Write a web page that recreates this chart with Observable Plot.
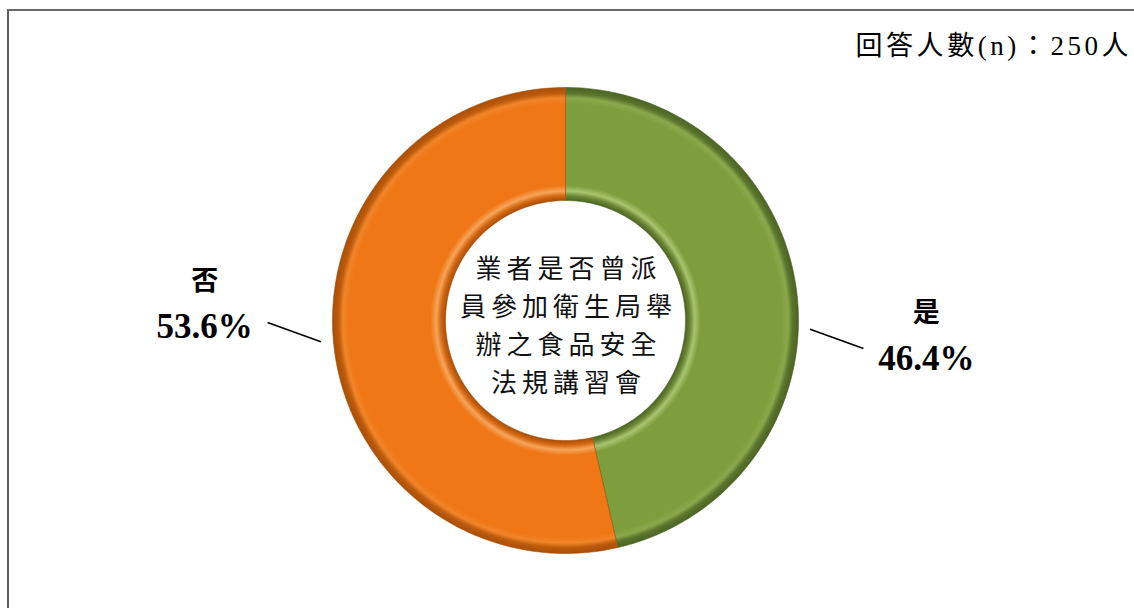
<!DOCTYPE html>
<html><head><meta charset="utf-8">
<script src="https://cdn.jsdelivr.net/npm/d3@7"></script>
<script src="https://cdn.jsdelivr.net/npm/@observablehq/plot@0.6"></script>
<style>
html,body{margin:0;padding:0;background:#fff;width:1134px;height:608px;overflow:hidden}
#wrap{position:relative;width:1134px;height:608px}
#frame{position:absolute;left:7px;top:9px;right:-5px;bottom:-5px;border-left:2px solid #5a5a5a;border-top:2px solid #6a6a6a;pointer-events:none}
#chart{position:absolute;left:0;top:0}
</style></head><body>
<div id="wrap"><div id="chart"></div><div id="frame"></div></div>
<script>
// ---- data ----
const categories = ["是", "否"];
const percents = [46.4, 53.6];
const sliceColors = ["#7E9E3E", "#EF7716"];
const rimColors = ["#4B6424", "#A84F08"];
const lightColors = ["#A9C46E", "#F6A45A"];
const centerLines = ["業者是否曾派", "員參加衛生局舉", "辦之食品安全", "法規講習會"];
const noteText = "回答人數(n)：250人";

// ---- geometry (pixel layout of the ring) ----
const W = 1134, H = 608;
const CX = 565, CY = 320, R = 233;
const INNER = 120 / 233;
const deg = Math.PI / 180;

const pie = d3.pie().sort(null).value(d => d.value);
const arcs = pie(categories.map((c, i) => ({cat: c, value: percents[i], i})));

function polar(a, r) { return [r * Math.sin(a), r * Math.cos(a)]; }

const slicePolys = arcs.map(a => {
  const pts = [];
  const n = 160;
  for (let k = 0; k <= n; k++) {
    const t = a.startAngle + (a.endAngle - a.startAngle) * k / n;
    const [x, y] = polar(t, 1);
    pts.push({x, y});
  }
  for (let k = n; k >= 0; k--) {
    const t = a.startAngle + (a.endAngle - a.startAngle) * k / n;
    const [x, y] = polar(t, INNER);
    pts.push({x, y});
  }
  pts.push(pts[0]);
  return pts;
});

const labelRows = arcs.map(a => {
  const mid = (a.startAngle + a.endAngle) / 2;
  const [lx, ly] = polar(mid + 9 * deg, 1.55);
  const [sx, sy] = polar(mid + 5 * deg, 1.05);
  const [ex, ey] = polar(mid + 9 * deg, 1.28);
  return {cat: a.data.cat, pct: a.data.value.toFixed(1) + "%", lx, ly, sx, sy, ex, ey};
});

const serif = "'Liberation Serif', 'Times New Roman', 'Noto Sans CJK TC', serif";

const marks = [];
slicePolys.forEach((pts, i) => {
  marks.push(Plot.line(pts, {x: "x", y: "y", fill: `url(#grad${i})`, stroke: rimColors[i], strokeWidth: 1, strokeOpacity: 0.6, curve: "linear"}));
});
marks.push(
  Plot.link(labelRows, {x1: "sx", y1: "sy", x2: "ex", y2: "ey", stroke: "#000", strokeWidth: 1.6, dy: 15}),
  Plot.text(labelRows, {x: "lx", y: "ly", text: "cat", dy: -23, fontSize: 27, fontWeight: "bold", fill: "#000", fontFamily: "'Noto Sans CJK TC', serif"}),
  Plot.text(labelRows, {x: "lx", y: "ly", text: "pct", dy: 22, fontSize: 35, fontWeight: "bold", fill: "#000", fontFamily: serif}),
  Plot.text([centerLines.join("\n")], {x: () => 0, y: () => 0, text: d => d, dx: 3, dy: 2, fontSize: 26, lineHeight: 1.46, fill: "#111", fontFamily: "'Noto Sans CJK TC', sans-serif"}),
  Plot.text([noteText], {frameAnchor: "top-right", text: d => d, dx: -6, dy: 46, lineAnchor: "middle", textAnchor: "end", fontSize: 27, fill: "#000", fontFamily: serif})
);

const chart = Plot.plot({
  width: W, height: H,
  margin: 0,
  x: {domain: [-1, 1], range: [CX - R, CX + R], axis: null},
  y: {domain: [-1, 1], range: [CY + R, CY - R], axis: null},
  style: {background: "transparent", overflow: "visible"},
  marks
});

const svg = d3.select(chart);
const defs = svg.insert("defs", ":first-child");
const xs = chart.scale("x"), ys = chart.scale("y");
const pcx = xs.apply(0), pcy = ys.apply(0), pr = xs.apply(1) - xs.apply(0);
sliceColors.forEach((c, i) => {
  const g = defs.append("radialGradient").attr("id", "grad" + i)
    .attr("gradientUnits", "userSpaceOnUse")
    .attr("cx", pcx).attr("cy", pcy).attr("r", pr);
  const stops = [
    [0, rimColors[i]],
    [INNER, rimColors[i]],
    [INNER + 0.02, d3.interpolateRgb(rimColors[i], c)(0.6)],
    [INNER + 0.04, lightColors[i]],
    [INNER + 0.065, c],
    [0.93, c],
    [0.955, d3.interpolateRgb(c, lightColors[i])(0.3)],
    [0.975, d3.interpolateRgb(c, rimColors[i])(0.7)],
    [1, rimColors[i]]
  ];
  stops.forEach(([o, col]) => g.append("stop").attr("offset", o).attr("stop-color", col));
});
svg.selectAll("text").each(function() {
  const t = this.textContent;
  if (t.startsWith(centerLines[0])) d3.select(this).attr("letter-spacing", 5);
  if (t === noteText) d3.select(this).attr("textLength", 273).attr("lengthAdjust", "spacing");
});

document.getElementById("chart").appendChild(chart);
</script>
</body></html>
